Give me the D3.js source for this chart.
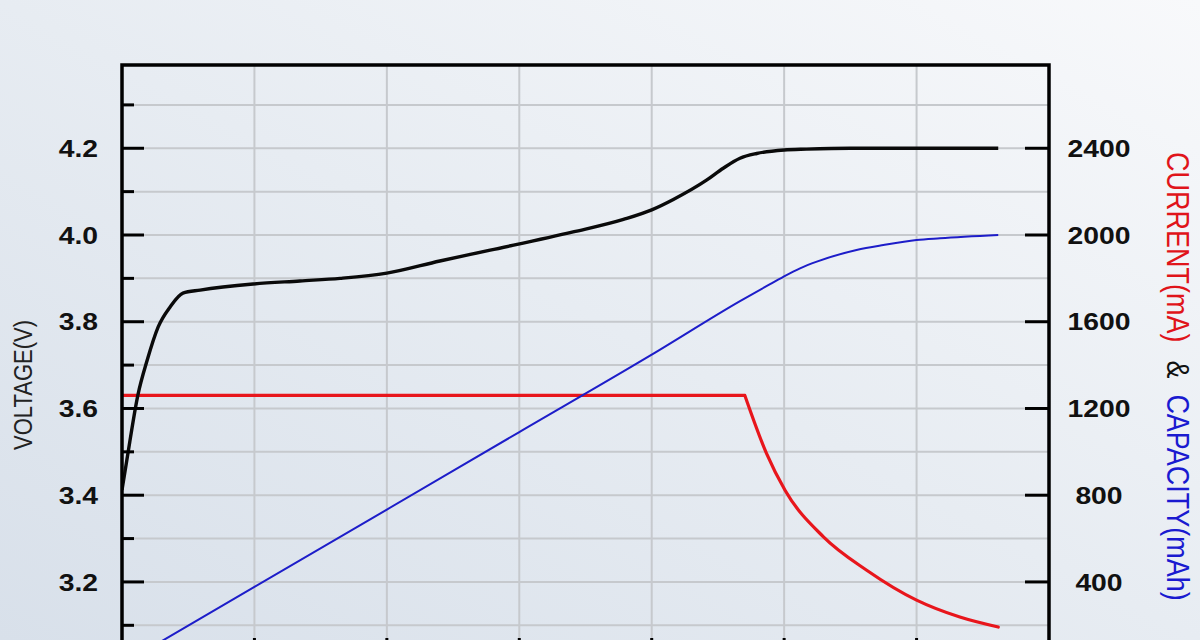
<!DOCTYPE html>
<html><head><meta charset="utf-8">
<script src="https://cdn.jsdelivr.net/npm/d3@7"></script>
<style>html,body{margin:0;padding:0;overflow:hidden;width:1200px;height:640px;background:#eef1f5;}</style>
</head><body>
<svg id="chart" width="1200" height="640"></svg>
<script>
// ---- data (time in minutes) ----
const voltTime = [0,1.1,3.6,5.7,8.2,10.9,13.8,17.7,29.7,40.3,49.4,60,72,83.4,102.2,113.6,120,124.9,132.5,136.2,140,143.8,150,155.1,165,198.5];
const voltage  = [3.412,3.481,3.631,3.711,3.788,3.834,3.866,3.873,3.887,3.894,3.900,3.912,3.940,3.965,4.007,4.036,4.058,4.082,4.127,4.154,4.177,4.188,4.196,4.198,4.2,4.2];
const currTime = [0,141.1,146.0,150.2,158.9,168.7,180.0,189.8,198.5];
const current  = [1260,1260,993,823,608,454,316,238,192];
const capTime  = [0,30,60,90,120,140,146.5,149.8,153.6,157.4,166.4,172.5,180,185.3,198.5];
const capacity = [20,377,734,1091,1448,1695,1770,1807,1846,1877,1931,1954,1977,1985,2000];
const voltMajorTicks = [3.2,3.4,3.6,3.8,4.0,4.2];
const voltLabels = ["3.2","3.4","3.6","3.8","4.0","4.2"];
const voltMinorTicks = [3.1,3.3,3.5,3.7,3.9,4.1,4.3];
const rightTicks = [400,800,1200,1600,2000,2400];
const timeTicks = [30,60,90,120,150,180];

const svg = d3.select("#chart");
const L = 122, R = 1049, T = 65, B = 660;
const x  = d3.scaleLinear().domain([0,210]).range([L,R]);
const yV = d3.scaleLinear().domain([3.02,4.392]).range([B,T]);
const yI = d3.scaleLinear().domain([40,2784]).range([B,T]);
const SX = 1.18;

// background
const defs = svg.append("defs");
const g0 = defs.append("linearGradient").attr("id","bg").attr("x1","0").attr("y1","1").attr("x2","1").attr("y2","0");
g0.append("stop").attr("offset","0").attr("stop-color","#d8e0ea");
g0.append("stop").attr("offset","0.5").attr("stop-color","#e7ecf2");
g0.append("stop").attr("offset","1").attr("stop-color","#f8f9fb");
svg.append("rect").attr("width",1200).attr("height",640).attr("fill","url(#bg)");
defs.append("clipPath").attr("id","plot").append("rect").attr("x",L).attr("y",T).attr("width",R-L).attr("height",B-T);

// grid
const allV = voltMajorTicks.concat(voltMinorTicks);
svg.append("g").selectAll("line").data(allV).join("line")
  .attr("x1",L).attr("x2",R).attr("y1",d=>yV(d)).attr("y2",d=>yV(d))
  .attr("stroke","#c6c9cd").attr("stroke-width",2);
svg.append("g").selectAll("line").data(timeTicks).join("line")
  .attr("x1",d=>x(d)).attr("x2",d=>x(d)).attr("y1",T).attr("y2",B)
  .attr("stroke","#c6c9cd").attr("stroke-width",2);

// series
const plot = svg.append("g").attr("clip-path","url(#plot)");
const lineI = d3.line().x(d=>x(d[0])).y(d=>yI(d[1])).curve(d3.curveMonotoneX);
const lineIlin = d3.line().x(d=>x(d[0])).y(d=>yI(d[1]));
const lineV = d3.line().x(d=>x(d[0])).y(d=>yV(d[1])).curve(d3.curveMonotoneX);
const currPts = d3.zip(currTime,current);
// constant-current part (straight) and taper part (smooth), meeting at a sharp corner
plot.append("path").datum(currPts.slice(0,2)).attr("d",lineIlin)
  .attr("fill","none").attr("stroke","#e8161c").attr("stroke-width",3.2).attr("stroke-linejoin","round");
plot.append("path").datum(currPts.slice(1)).attr("d",lineI)
  .attr("fill","none").attr("stroke","#e8161c").attr("stroke-width",3.2).attr("stroke-linecap","round");
plot.append("path").datum(d3.zip(capTime,capacity)).attr("d",lineI)
  .attr("fill","none").attr("stroke","#1d1dc9").attr("stroke-width",2);
plot.append("path").datum(d3.zip(voltTime,voltage)).attr("d",lineV)
  .attr("fill","none").attr("stroke","#0a0a0a").attr("stroke-width",3.4);

// frame
svg.append("path").attr("d",`M${L},${B+10}V${T}H${R}V${B+10}M${L},${B}H${R}`)
  .attr("fill","none").attr("stroke","#000").attr("stroke-width",3.5);

// ticks
svg.append("g").selectAll("line").data(voltMajorTicks).join("line")
  .attr("x1",L).attr("x2",L+22).attr("y1",d=>yV(d)).attr("y2",d=>yV(d))
  .attr("stroke","#000").attr("stroke-width",3);
svg.append("g").selectAll("line").data(voltMinorTicks).join("line")
  .attr("x1",L).attr("x2",L+12).attr("y1",d=>yV(d)).attr("y2",d=>yV(d))
  .attr("stroke","#000").attr("stroke-width",3);
svg.append("g").selectAll("line").data(rightTicks).join("line")
  .attr("x1",R-24).attr("x2",R).attr("y1",d=>yI(d)).attr("y2",d=>yI(d))
  .attr("stroke","#000").attr("stroke-width",3);
svg.append("g").selectAll("line").data(timeTicks).join("line")
  .attr("x1",d=>x(d)).attr("x2",d=>x(d)).attr("y1",B).attr("y2",B-22)
  .attr("stroke","#000").attr("stroke-width",3);

// tick labels
const font = "'Liberation Sans', Arial, sans-serif";
svg.append("g").selectAll("text").data(voltMajorTicks).join("text")
  .attr("transform",d=>`translate(98,${yV(d)}) scale(${SX},1)`)
  .attr("text-anchor","end").attr("dy","0.36em")
  .style("font-family",font).style("font-size","24px").style("font-weight","bold").attr("fill","#111")
  .text((d,i)=>voltLabels[i]);
svg.append("g").selectAll("text").data(rightTicks).join("text")
  .attr("transform",d=>`translate(1099,${yI(d)}) scale(${SX},1)`)
  .attr("text-anchor","middle").attr("dy","0.36em")
  .style("font-family",font).style("font-size","24px").style("font-weight","bold").attr("fill","#111")
  .text(d=>String(d));

// axis titles
svg.append("text").attr("transform",`translate(32,385) scale(${SX},1) rotate(-90)`)
  .attr("text-anchor","middle").style("font-family",font).style("font-size","22px").attr("fill","#222")
  .text("VOLTAGE(V)");
const rt = svg.append("text").attr("transform",`translate(1167,152) scale(${SX},1) rotate(90)`)
  .attr("text-anchor","start").style("font-family",font).style("font-size","27px");
rt.append("tspan").attr("fill","#e0141a").text("CURRENT(mA)");
rt.append("tspan").attr("fill","#111").attr("dx",18).text("&");
rt.append("tspan").attr("fill","#1a1ad0").attr("dx",16).text("CAPACITY(mAh)");
</script>
</body></html>
